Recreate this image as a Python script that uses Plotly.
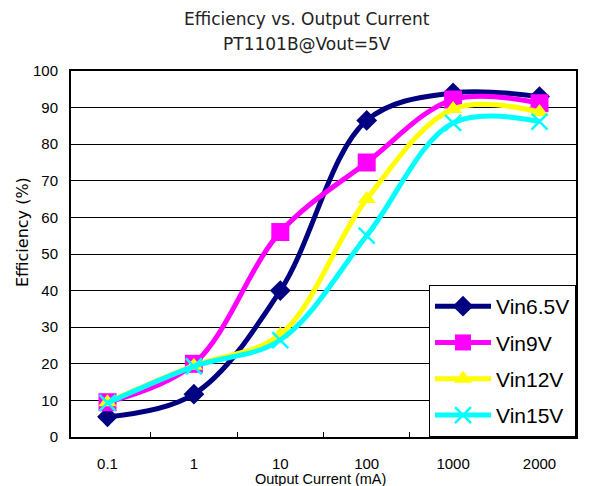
import plotly.graph_objects as go

categories = ["0.1", "1", "10", "100", "1000", "2000"]
vin65 = [5.5, 11.7, 40, 86.5, 94, 93]
vin9 = [9.5, 20, 56, 75, 92.2, 91.2]
vin12 = [9.5, 19.5, 28, 65, 89.6, 88.8]
vin15 = [9.3, 19.3, 26.5, 55, 85.8, 86.2]
series_names = ["Vin6.5V", "Vin9V", "Vin12V", "Vin15V"]
series_values = [vin65, vin9, vin12, vin15]
colors = ["#000080", "#FF00FF", "#FFFF00", "#00FFFF"]
symbols = ["diamond", "square", "triangle-up", "x-thin-open"]
msizes = [16, 18, 16, 16]

fig = go.Figure()
for name, vals, c, s, ms in zip(series_names, series_values, colors, symbols, msizes):
    marker = dict(symbol=s, size=ms, color=c)
    if s == "x-thin-open":
        marker["line"] = dict(color=c, width=2.5)
    fig.add_trace(go.Scatter(
        x=categories, y=vals, name=name, mode="lines+markers",
        line=dict(color=c, width=5, shape="spline", smoothing=1.0),
        marker=marker, legendgroup=name,
    ))

title_font = dict(size=17, family="DejaVu Sans", color="#222222")
fig.update_layout(
    width=589, height=486,
    margin=dict(l=71, r=13, t=71, b=49),
    paper_bgcolor="white", plot_bgcolor="white",
    font=dict(family="Liberation Sans, Arial", color="black", size=14),
    showlegend=True,
    legend=dict(
        x=1.0, y=0.0, xanchor="right", yanchor="bottom",
        bgcolor="white", bordercolor="black", borderwidth=1,
        font=dict(size=21, family="Liberation Sans, Arial"),
        itemwidth=56, tracegroupgap=6, traceorder="grouped",
    ),
    annotations=[
        dict(text="Efficiency vs. Output Current", xref="paper", yref="paper",
             x=0.467, y=1 + 52 / 366, xanchor="center", yanchor="middle",
             showarrow=False, font=title_font),
        dict(text="PT1101B@Vout=5V", xref="paper", yref="paper",
             x=0.467, y=1 + 27 / 366, xanchor="center", yanchor="middle",
             showarrow=False, font=title_font),
        dict(text="Efficiency (%)", xref="paper", yref="paper",
             x=(22 - 71) / 505, y=(437 - 232) / 366, xanchor="center",
             yanchor="middle", textangle=-90, showarrow=False,
             font=dict(size=16, family="DejaVu Sans")),
        dict(text="Output Current (mA)", xref="paper", yref="paper",
             x=(320 - 71) / 505, y=(437 - 479) / 366, xanchor="center",
             yanchor="middle", showarrow=False,
             font=dict(size=14.5, family="Liberation Sans, Arial")),
    ],
)
fig.update_xaxes(
    type="category", tickson="boundaries", ticks="inside", ticklen=5,
    tickcolor="black", showline=True, linecolor="black", linewidth=2,
    mirror=True, showgrid=False, tickfont=dict(size=15),
    ticklabelstandoff=12, automargin=False,
)
fig.update_yaxes(
    range=[0, 100], dtick=10, ticks="inside", ticklen=5, tickcolor="black",
    showline=True, linecolor="black", linewidth=2, mirror=True,
    showgrid=True, gridcolor="black", gridwidth=1, zeroline=False,
    tickfont=dict(size=15), ticklabelstandoff=8, automargin=False,
)
fig.write_html("out.html", config={"displayModeBar": False},
               post_script="document.body.style.margin='0px';")
